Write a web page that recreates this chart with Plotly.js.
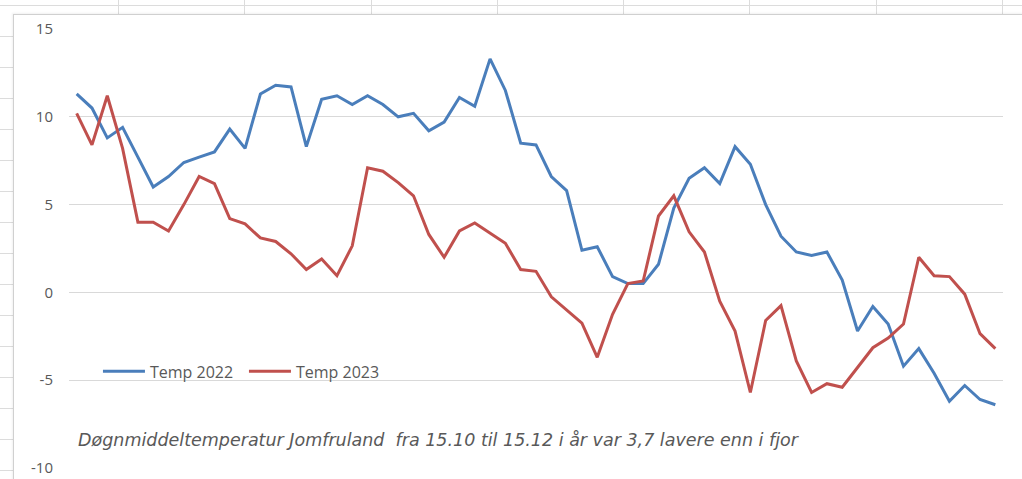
<!DOCTYPE html>
<html>
<head>
<meta charset="utf-8">
<script src="https://cdn.plot.ly/plotly-3.0.1.min.js"></script>
<style>
  html, body { margin: 0; padding: 0; width: 1022px; height: 479px; overflow: hidden; background: #ffffff; }
  #sheet { position: absolute; left: 0; top: 0; width: 1022px; height: 479px;
    background-image:
      repeating-linear-gradient(to bottom, transparent 0px, transparent 5px, #dcdcdc 5px, #dcdcdc 6px, transparent 6px, transparent 31px),
      repeating-linear-gradient(to right, transparent 0px, transparent 118px, #dcdcdc 118px, #dcdcdc 119px, transparent 119px, transparent 126.3px);
  }
  #chartbg { position: absolute; left: 13px; top: 14px; width: 1020px; height: 480px; background: #ffffff;
    border-left: 1px solid #d0d0d0; border-top: 1px solid #d0d0d0; box-shadow: -1px -1px 2px rgba(0,0,0,0.06); }
  #plot { position: absolute; left: 0; top: 0; width: 1022px; height: 479px; }
</style>
</head>
<body>
<div id="sheet"></div>
<div id="chartbg"></div>
<div id="plot"></div>
<script>
// Categories: days from 15.10 onwards
var days = [
  "15.10","16.10","17.10","18.10","19.10","20.10","21.10","22.10","23.10","24.10","25.10","26.10","27.10","28.10","29.10","30.10","31.10",
  "1.11","2.11","3.11","4.11","5.11","6.11","7.11","8.11","9.11","10.11","11.11","12.11","13.11","14.11","15.11","16.11","17.11","18.11","19.11","20.11",
  "21.11","22.11","23.11","24.11","25.11","26.11","27.11","28.11","29.11","30.11",
  "1.12","2.12","3.12","4.12","5.12","6.12","7.12","8.12","9.12","10.12","11.12","12.12","13.12","14.12"
];

var temp2022 = [
  11.3, 10.5, 8.8, 9.4, 7.7, 6.0, 6.6, 7.4, 7.7, 8.0,
  9.3, 8.2, 11.3, 11.8, 11.7, 8.3, 11.0, 11.2, 10.7, 11.2,
  10.7, 10.0, 10.2, 9.2, 9.7, 11.1, 10.6, 13.3, 11.5, 8.5,
  8.4, 6.6, 5.8, 2.4, 2.6, 0.9, 0.5, 0.5, 1.6, 4.8,
  6.5, 7.1, 6.2, 8.3, 7.3, 5.0, 3.2, 2.3, 2.1, 2.3,
  0.7, -2.2, -0.8, -1.8, -4.2, -3.2, -4.6, -6.2, -5.3, -6.1,
  -6.4
];

var temp2023 = [
  10.2, 8.4, 11.2, 8.2, 4.0, 4.0, 3.5, 5.0, 6.6, 6.2,
  4.2, 3.9, 3.1, 2.9, 2.2, 1.3, 1.9, 0.95, 2.65, 7.1,
  6.9, 6.25, 5.5, 3.3, 2.0, 3.5, 3.95, 3.35, 2.8, 1.3,
  1.2, -0.25, -1.0, -1.75, -3.7, -1.25, 0.5, 0.65, 4.35, 5.5,
  3.45, 2.3, -0.5, -2.2, -5.7, -1.6, -0.75, -3.9, -5.7, -5.2,
  -5.4, -4.25, -3.15, -2.6, -1.8, 2.0, 0.95, 0.9, -0.1, -2.35,
  -3.2
];

var seriesNames = ["Temp 2022", "Temp 2023"];
var yTicks = [-10, -5, 0, 5, 10, 15];
var caption = "Døgnmiddeltemperatur Jomfruland\u00a0 fra 15.10 til 15.12 i år var 3,7 lavere enn i fjor";

var traces = [
  { x: days, y: temp2022, name: seriesNames[0], type: "scatter", mode: "lines",
    line: { color: "#4a7ebb", width: 3, shape: "linear" }, hoverinfo: "x+y+name" },
  { x: days, y: temp2023, name: seriesNames[1], type: "scatter", mode: "lines",
    line: { color: "#c0504d", width: 3, shape: "linear" }, hoverinfo: "x+y+name" }
];

var layout = {
  width: 1022, height: 479,
  margin: { l: 69, r: 19, t: 29, b: 11, pad: 0 },
  paper_bgcolor: "rgba(0,0,0,0)",
  plot_bgcolor: "rgba(0,0,0,0)",
  font: { family: "Open Sans, sans-serif", color: "#595959" },
  showlegend: true,
  legend: {
    orientation: "h", x: 0.031, xanchor: "left", y: 0.22, yanchor: "middle",
    font: { family: "Open Sans, sans-serif", size: 16, color: "#595959" },
    bgcolor: "rgba(0,0,0,0)", borderwidth: 0,
    entrywidth: 89, entrywidthmode: "pixels", itemwidth: 42, traceorder: "normal"
  },
  xaxis: {
    type: "category", range: [-0.5, 60.5], showgrid: false, zeroline: false,
    showline: false, showticklabels: false, ticks: "", fixedrange: true
  },
  yaxis: {
    range: [-10, 15], tickvals: yTicks, ticktext: yTicks.map(String),
    showgrid: true, gridcolor: "#d9d9d9", gridwidth: 1,
    zeroline: false, showline: false,
    ticks: "outside", ticklen: 12, tickcolor: "rgba(0,0,0,0)",
    tickfont: { family: "Open Sans, sans-serif", size: 15, color: "#595959" },
    fixedrange: true
  },
  annotations: [{
    xref: "paper", yref: "paper", x: 0.0075, y: 0.063, xanchor: "left", yanchor: "middle",
    text: caption, showarrow: false,
    font: { family: "DejaVu Sans, sans-serif", size: 17.5, color: "#595959", style: "italic" }
  }]
};

Plotly.newPlot("plot", traces, layout, { displayModeBar: false, staticPlot: true });
</script>
</body>
</html>
